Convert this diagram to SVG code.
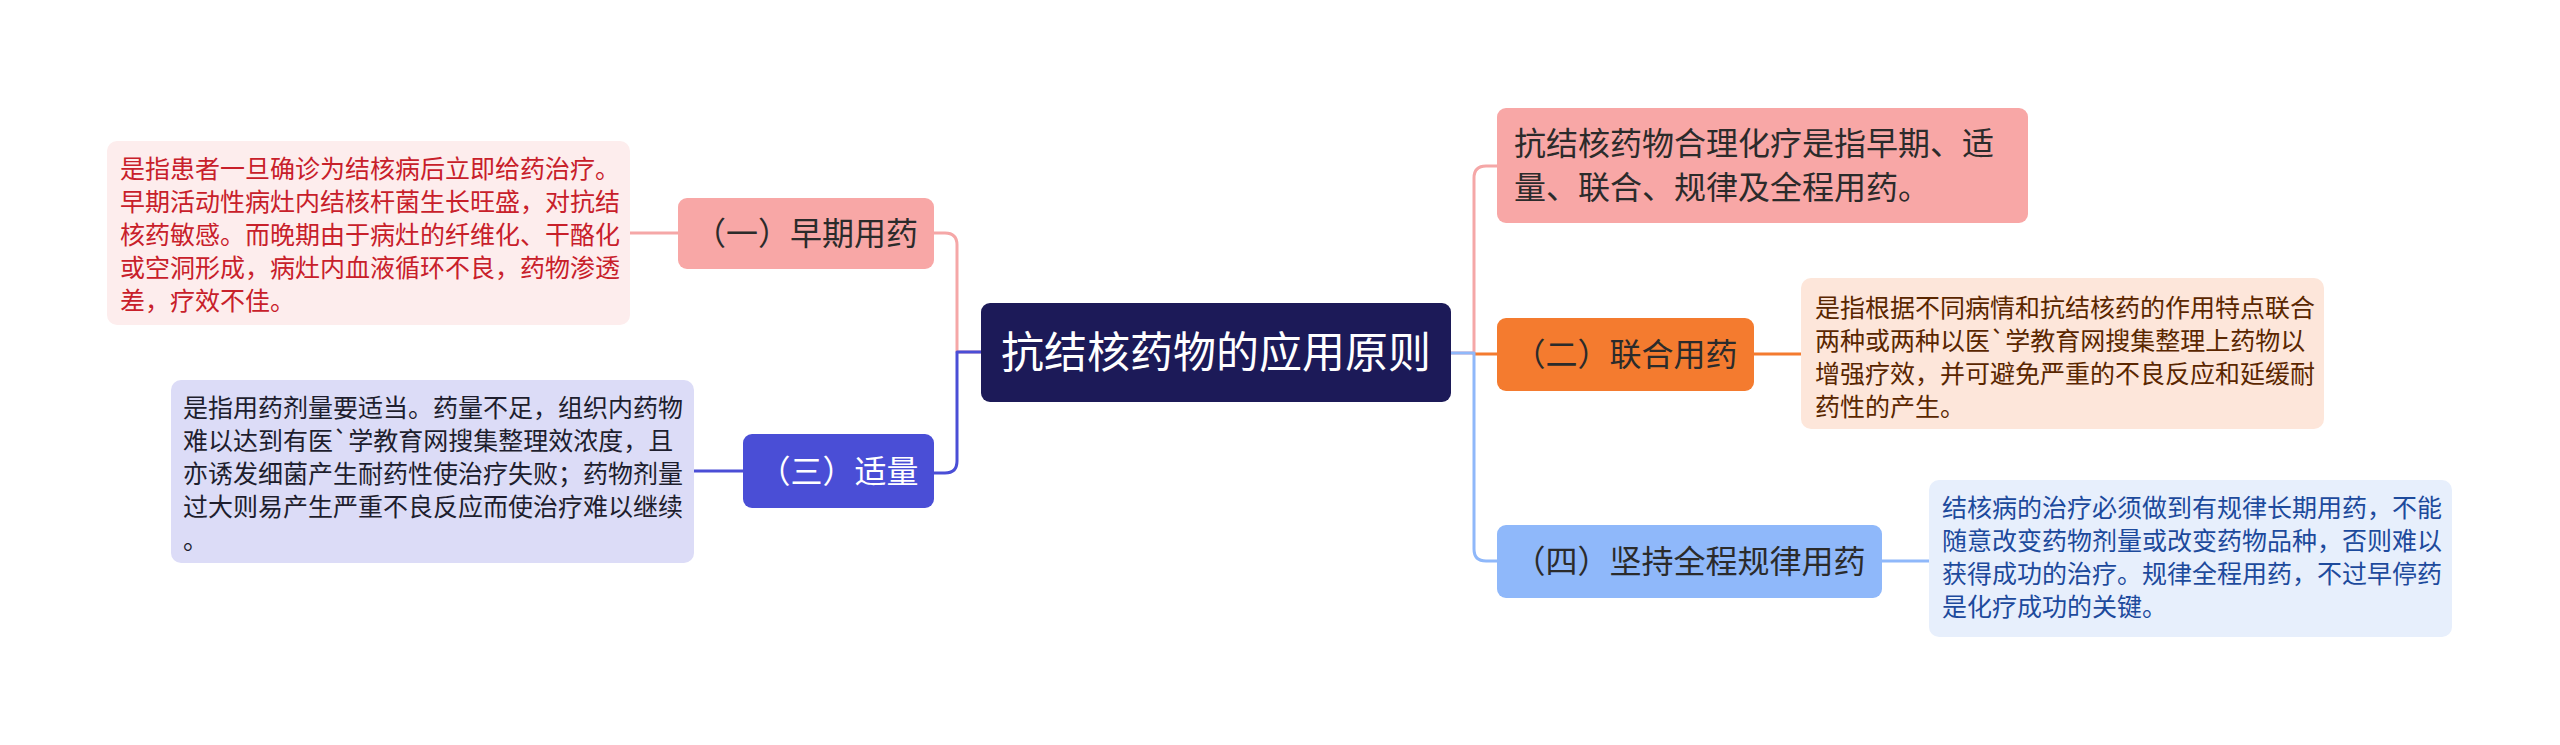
<svg xmlns="http://www.w3.org/2000/svg" width="2560" height="745" viewBox="0 0 2560 745">
<style>
text{font-family:"Noto Sans CJK SC","Noto Sans",sans-serif;}
.c{fill:none;stroke-width:3;stroke-linejoin:round;stroke-linecap:round;}
.t1{font-size:32px;fill:#2b2b2b;}
.tw{font-size:32px;fill:#ffffff;}
.d{font-size:25px;}
</style>
<rect width="2560" height="745" fill="#ffffff"/>
<g id="connectors">
  <path class="c" stroke="#f5a7a7" d="M981,352 H957 V245 Q957,233 945,233 H934"/>
  <path class="c" stroke="#4a4ed6" d="M981,352 H957 V461 Q957,473 945,473 H934"/>
  <path class="c" stroke="#f5a7a7" d="M1451,353 H1474 V178 Q1474,166 1486,166 H1497"/>
  <path class="c" stroke="#f47b2f" d="M1474,354 H1497"/>
  <path class="c" stroke="#8fb8fa" d="M1451,353 H1474 V549 Q1474,561 1486,561 H1497"/>
  <path class="c" stroke="#f5a7a7" d="M678,233 H630"/>
  <path class="c" stroke="#4a4ed6" d="M743,471 H694"/>
  <path class="c" stroke="#f47b2f" d="M1754,354 H1801"/>
  <path class="c" stroke="#8fb8fa" d="M1882,561 H1929"/>
</g>
<g id="root">
  <rect x="981" y="303" width="470" height="99" rx="9" fill="#1c1a58"/>
  <text x="1216" y="368" font-size="43" fill="#ffffff" text-anchor="middle">抗结核药物的应用原则</text>
</g>
<g id="n1">
  <rect x="678" y="198" width="256" height="71" rx="9" fill="#f8a7a6"/>
  <text class="t1" x="806" y="245" text-anchor="middle">（一）早期用药</text>
</g>
<g id="n1d">
  <rect x="107" y="141" width="523" height="184" rx="10" fill="#fdeded"/>
  <text class="d" fill="#c8202a">
    <tspan x="120" y="178">是指患者一旦确诊为结核病后立即给药治疗。</tspan>
    <tspan x="120" y="211">早期活动性病灶内结核杆菌生长旺盛，对抗结</tspan>
    <tspan x="120" y="244">核药敏感。而晚期由于病灶的纤维化、干酪化</tspan>
    <tspan x="120" y="277">或空洞形成，病灶内血液循环不良，药物渗透</tspan>
    <tspan x="120" y="310">差，疗效不佳。</tspan>
  </text>
</g>
<g id="n3">
  <rect x="743" y="434" width="191" height="74" rx="9" fill="#4a4ed6"/>
  <text class="tw" x="838.5" y="483" text-anchor="middle">（三）适量</text>
</g>
<g id="n3d">
  <rect x="171" y="380" width="523" height="183" rx="10" fill="#dcdcf7"/>
  <text class="d" fill="#1e1e2e">
    <tspan x="183" y="417">是指用药剂量要适当。药量不足，组织内药物</tspan>
    <tspan x="183" y="450">难以达到有医`学教育网搜集整理效浓度，且</tspan>
    <tspan x="183" y="483">亦诱发细菌产生耐药性使治疗失败；药物剂量</tspan>
    <tspan x="183" y="516">过大则易产生严重不良反应而使治疗难以继续</tspan>
    <tspan x="183" y="549">。</tspan>
  </text>
</g>
<g id="n0">
  <rect x="1497" y="108" width="531" height="115" rx="9" fill="#f8a7a6"/>
  <text class="t1">
    <tspan x="1514" y="155">抗结核药物合理化疗是指早期、适</tspan>
    <tspan x="1514" y="199">量、联合、规律及全程用药。</tspan>
  </text>
</g>
<g id="n2">
  <rect x="1497" y="318" width="257" height="73" rx="9" fill="#f47b2f"/>
  <text class="t1" x="1625.5" y="366" text-anchor="middle">（二）联合用药</text>
</g>
<g id="n2d">
  <rect x="1801" y="278" width="523" height="151" rx="10" fill="#fde6da"/>
  <text class="d" fill="#5a2600">
    <tspan x="1815" y="317">是指根据不同病情和抗结核药的作用特点联合</tspan>
    <tspan x="1815" y="350">两种或两种以医`学教育网搜集整理上药物以</tspan>
    <tspan x="1815" y="383">增强疗效，并可避免严重的不良反应和延缓耐</tspan>
    <tspan x="1815" y="416">药性的产生。</tspan>
  </text>
</g>
<g id="n4">
  <rect x="1497" y="525" width="385" height="73" rx="9" fill="#8fb8fa"/>
  <text class="t1" x="1689.5" y="573" text-anchor="middle">（四）坚持全程规律用药</text>
</g>
<g id="n4d">
  <rect x="1929" y="480" width="523" height="157" rx="10" fill="#e7effc"/>
  <text class="d" fill="#1d4a9c">
    <tspan x="1942" y="517">结核病的治疗必须做到有规律长期用药，不能</tspan>
    <tspan x="1942" y="550">随意改变药物剂量或改变药物品种，否则难以</tspan>
    <tspan x="1942" y="583">获得成功的治疗。规律全程用药，不过早停药</tspan>
    <tspan x="1942" y="616">是化疗成功的关键。</tspan>
  </text>
</g>
</svg>
